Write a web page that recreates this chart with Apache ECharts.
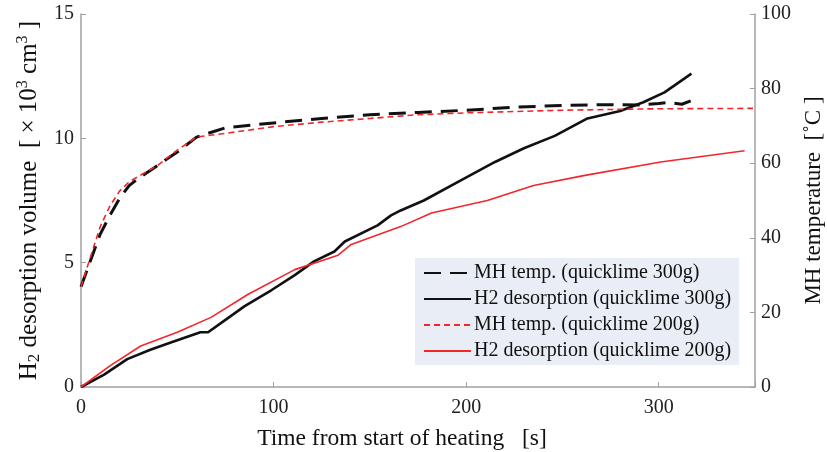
<!DOCTYPE html>
<html><head><meta charset="utf-8">
<script src="https://cdn.jsdelivr.net/npm/echarts@6/dist/echarts.min.js"></script>
<style>html,body{margin:0;padding:0;background:#fff}#c{width:827px;height:452px}</style>
</head><body><div id="c"></div>
<script>
// Time [s] and values
const tempT300 = [0,5,10,15,20,25,30,40,50,60,75,100,125,150,175,200,225,250,275,290,300,305,312,318];
const tempV300 = [26.9,34,41,46,50.5,54,56,59.5,63,67,69.5,70.8,72,73,73.6,74.2,75,75.5,75.7,75.6,76,76.3,75.8,77];
const h2T300 = [0,12,24,36,47,62,66,75,85,99,111,121,131.6,137,154,161,166,178,197,215,230,246,263,280,292,303,317];
const h2V300 = [0,0.5,1.12,1.5,1.8,2.2,2.2,2.7,3.25,3.9,4.5,5.05,5.45,5.85,6.5,6.9,7.1,7.5,8.3,9.05,9.6,10.1,10.8,11.1,11.45,11.85,12.6];
const tempT200 = [0,5,10,15,20,25,30,40,50,60,75,100,125,150,175,200,250,300,349];
const tempV200 = [26.9,35,43,48.5,52.5,55,56.5,59.5,63.5,67,68,69.8,71,72,73,73.5,74.2,74.6,74.7];
const h2T200 = [0,15,31,50,67.5,86.6,111,133.5,140,166,182,211,235,261,301,344.6];
const h2V200 = [0,0.85,1.65,2.2,2.8,3.72,4.72,5.3,5.72,6.45,7.0,7.5,8.1,8.5,9.05,9.5];
const xTicks = [0,100,200,300];
const names = ['MH temp. (quicklime 300g)','H2 desorption (quicklime 300g)','MH temp. (quicklime 200g)','H2 desorption (quicklime 200g)'];

const zip = (a,b) => a.map((v,i)=>[v,b[i]]);
const FONT = '"Liberation Serif","Times New Roman",serif';
const axisCol = '#a0a0a0';

const chart = echarts.init(document.getElementById('c'), null, {renderer:'canvas'});
chart.setOption({
  animation:false,
  backgroundColor:'#fff',
  grid:{left:81,right:72,top:14,bottom:65,containLabel:false,outerBoundsMode:'none'},
  legend:{
    orient:'vertical', left:415, top:258,
    backgroundColor:'#e9eef6', padding:[5,8,4,8], itemGap:6,
    itemWidth:47, itemHeight:14,
    itemStyle:{opacity:0},
    textStyle:{fontFamily:FONT,fontSize:20,color:'#111',padding:[0,0,0,-2]},
    data:names
  },
  xAxis:{
    type:'value', min:0, max:350, interval:100,
    name:'Time from start of heating   [s]', nameLocation:'middle', nameGap:40,
    nameTextStyle:{fontFamily:FONT,fontSize:23.5,color:'#111',padding:[0,32,0,0]},
    axisLine:{show:true,lineStyle:{color:axisCol,width:1.5}},
    axisTick:{inside:true,length:5,lineStyle:{color:axisCol}},
    axisLabel:{fontFamily:FONT,fontSize:20,color:'#222',margin:11,
      formatter:v=>xTicks.indexOf(v)>=0?String(v):''},
    splitLine:{show:false}
  },
  yAxis:[{
    type:'value', min:0, max:15, interval:5, position:'left',
    name:'{a|H}{sub|2}{a| desorption volume  [ × 10}{sup|3}{a| cm}{sup|3}{a| ]}',
    nameLocation:'middle', nameGap:37, nameRotate:90,
    nameTextStyle:{fontFamily:FONT,fontSize:25,color:'#111',
      rich:{
        a:{fontFamily:FONT,fontSize:25,color:'#111',lineHeight:28},
        sub:{fontFamily:FONT,fontSize:17,color:'#111',lineHeight:14,verticalAlign:'bottom'},
        sup:{fontFamily:FONT,fontSize:16,color:'#111',lineHeight:12,verticalAlign:'top'}
      }},
    axisLine:{show:true,lineStyle:{color:axisCol,width:1.5}},
    axisTick:{show:true,inside:true,length:5,lineStyle:{color:axisCol}},
    axisLabel:{fontFamily:FONT,fontSize:20,color:'#222',margin:7},
    splitLine:{show:false}
  },{
    type:'value', min:0, max:100, interval:20, position:'right',
    name:'MH temperature  [˚C ]', nameLocation:'middle', nameGap:47, nameRotate:90,
    nameTextStyle:{fontFamily:FONT,fontSize:23,color:'#111'},
    axisLine:{show:true,lineStyle:{color:axisCol,width:1.5}},
    axisTick:{show:true,inside:true,length:5,lineStyle:{color:axisCol}},
    axisLabel:{fontFamily:FONT,fontSize:20,color:'#222',margin:6},
    splitLine:{show:false}
  }],
  series:[
    {name:names[0],type:'line',yAxisIndex:1,data:zip(tempT300,tempV300),showSymbol:false,symbol:'none',
      lineStyle:{color:'#111',width:3,type:[17,9]},itemStyle:{color:'#111'},z:3},
    {name:names[1],type:'line',yAxisIndex:0,data:zip(h2T300,h2V300),showSymbol:false,symbol:'none',
      lineStyle:{color:'#111',width:2.6},itemStyle:{color:'#111'},z:2},
    {name:names[2],type:'line',yAxisIndex:1,data:zip(tempT200,tempV200),showSymbol:false,symbol:'none',
      lineStyle:{color:'#f2262b',width:1.6,type:[6,4]},itemStyle:{color:'#f2262b'},z:4},
    {name:names[3],type:'line',yAxisIndex:0,data:zip(h2T200,h2V200),showSymbol:false,symbol:'none',
      lineStyle:{color:'#f2262b',width:1.6},itemStyle:{color:'#f2262b'},z:4}
  ]
});
</script></body></html>
